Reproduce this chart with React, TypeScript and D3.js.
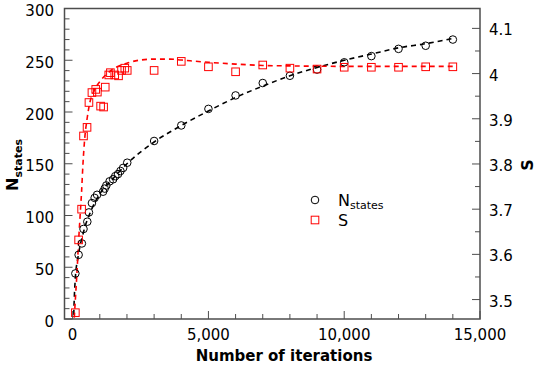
import React from 'react';
import * as d3 from 'd3';

// N_states (black circles)
const nIter = [100, 220, 340, 400, 540, 600, 710, 810, 900, 1120, 1180, 1240, 1360, 1490, 1570, 1670, 1760, 1860, 2010, 3000, 4000, 5000, 6000, 7000, 8000, 9000, 10000, 11000, 12000, 13000, 14000];
const nStates = [44, 62, 73, 87, 94, 103, 112, 117, 120, 123, 126, 129, 133, 135, 138, 140, 143, 146, 151, 172, 187, 203, 216, 228, 235, 241, 248, 254, 261, 264, 270];

// S (red squares)
const sIter = [100, 220, 330, 400, 530, 600, 710, 850, 910, 1030, 1140, 1200, 1330, 1390, 1550, 1690, 1800, 1920, 2010, 3000, 4000, 5000, 6000, 7000, 8000, 9000, 10000, 11000, 12000, 13000, 14000];
const sValues = [3.471, 3.632, 3.7, 3.862, 3.881, 3.936, 3.958, 3.965, 3.959, 3.928, 3.926, 3.97, 3.997, 4.002, 3.997, 3.995, 4.007, 4.012, 4.007, 4.007, 4.027, 4.015, 4.004, 4.019, 4.012, 4.01, 4.014, 4.014, 4.014, 4.015, 4.015];

// fitted curves (dashed)
const nFitIter = [40, 60, 100, 200, 400, 700, 1000, 1500, 2000, 3000, 4000, 5000, 6000, 7000, 8000, 9000, 10000, 11000, 12000, 13000, 14000];
const nFitValues = [4, 20, 40, 60, 84, 106, 121, 136, 150, 171, 187, 201, 214, 225, 235, 243, 250, 256, 262, 266, 271];
const sFitIter = [60, 100, 150, 220, 280, 330, 380, 450, 520, 630, 800, 1050, 1350, 2000, 2500, 3000, 3600, 4000, 5000, 6000, 7000, 8000, 10000, 12000, 14000];
const sFitValues = [3.46, 3.5, 3.55, 3.63, 3.69, 3.74, 3.8, 3.86, 3.895, 3.935, 3.963, 3.986, 4.004, 4.023, 4.03, 4.032, 4.032, 4.03, 4.025, 4.021, 4.018, 4.017, 4.016, 4.016, 4.016];

const xTicks = [0, 5000, 10000, 15000];
const leftTicks = [0, 50, 100, 150, 200, 250, 300];
const rightTicks = [3.5, 3.6, 3.7, 3.8, 3.9, 4.0, 4.1];

const W = 540;
const H = 366;
const left = 64.5;
const right = 480;
const top = 8.5;
const bottom = 319;
const font = 'DejaVu Sans, sans-serif';
const axisColor = '#4d4d4d';

export default function App() {
  const x = d3.scaleLinear().domain([-300, 15000]).range([left, right]);
  const yN = d3.scaleLinear().domain([0, 300]).range([bottom, top]);
  const yS = d3.scaleLinear().domain([3.457, 4.144]).range([bottom, top]);

  const nLine = d3.line<number>()
    .x((d, i) => x(nFitIter[i]))
    .y(d => yN(d))
    .curve(d3.curveMonotoneX);
  const sLine = d3.line<number>()
    .x((d, i) => x(sFitIter[i]))
    .y(d => yS(d))
    .curve(d3.curveMonotoneX);

  const xMinor = d3.range(0, 15001, 1000).filter(v => v % 5000 !== 0);
  const leftMinor = d3.range(0, 301, 10).filter(v => v % 50 !== 0);
  const rightMinor = d3.range(3.45, 4.15, 0.1).filter(v => yS(v) <= bottom && yS(v) >= top);
  const fmt = d3.format(',');

  return (
    <svg width={W} height={H} style={{ position: 'absolute', left: 0, top: 0 }} fontFamily={font}>
      <defs>
        <clipPath id="plot">
          <rect x={left} y={top} width={right - left} height={bottom - top} />
        </clipPath>
      </defs>
      <rect width={W} height={H} fill="#fff" />

      <g clipPath="url(#plot)">
        <path d={nLine(nFitValues) || ''} fill="none" stroke="#000" strokeWidth={1.6} strokeDasharray="5,4" />
        <path d={sLine(sFitValues) || ''} fill="none" stroke="#f00" strokeWidth={1.6} strokeDasharray="5,4" />
        {nStates.map((v, i) => (
          <circle key={'c' + i} cx={x(nIter[i])} cy={yN(v)} r={3.8} fill="none" stroke="#000" strokeWidth={1} />
        ))}
        {sValues.map((v, i) => (
          <rect key={'s' + i} x={x(sIter[i]) - 3.8} y={yS(v) - 3.8} width={7.6} height={7.6} fill="none" stroke="#f00" strokeWidth={1} />
        ))}
      </g>

      {/* ticks */}
      <g stroke={axisColor} strokeWidth={1}>
        {xTicks.map(t => (
          <line key={'xt' + t} x1={x(t)} x2={x(t)} y1={bottom} y2={bottom - 8} />
        ))}
        {xMinor.map(t => (
          <line key={'xm' + t} x1={x(t)} x2={x(t)} y1={bottom} y2={bottom - 5} />
        ))}
        {leftTicks.map(t => (
          <line key={'lt' + t} x1={left} x2={left + 8} y1={yN(t)} y2={yN(t)} />
        ))}
        {leftMinor.map(t => (
          <line key={'lm' + t} x1={left} x2={left + 5} y1={yN(t)} y2={yN(t)} />
        ))}
        {rightTicks.map(t => (
          <line key={'rt' + t} x1={right} x2={right - 8} y1={yS(t)} y2={yS(t)} />
        ))}
        {rightMinor.map(t => (
          <line key={'rm' + t} x1={right} x2={right - 5} y1={yS(t)} y2={yS(t)} />
        ))}
      </g>
      <rect x={left} y={top} width={right - left} height={bottom - top} fill="none" stroke={axisColor} strokeWidth={1.5} />

      {/* tick labels */}
      <g fontSize={15} fill="#000">
        {xTicks.map(t => (
          <text key={'xl' + t} x={x(t)} y={340} textAnchor="middle">{fmt(t)}</text>
        ))}
        {leftTicks.map(t => (
          <text key={'ll' + t} x={54} y={yN(t) + 7.5} textAnchor="end">{t}</text>
        ))}
        {rightTicks.map(t => (
          <text key={'rl' + t} x={489} y={yS(t) + 7} textAnchor="start">{d3.format('')(t)}</text>
        ))}
      </g>

      {/* axis titles */}
      <text x={284} y={361} textAnchor="middle" fontSize={15} fontWeight="bold">Number of iterations</text>
      <text transform="translate(18,165) rotate(-90)" textAnchor="middle" fontWeight="bold" fontSize={16}>
        N<tspan fontSize={11} dy={4}>states</tspan>
      </text>
      <text transform="translate(533,165) rotate(-90)" textAnchor="middle" fontWeight="bold" fontSize={16}>S</text>

      {/* legend */}
      <circle cx={315} cy={200} r={3.8} fill="none" stroke="#000" strokeWidth={1} />
      <text x={338} y={206} fontSize={16}>N<tspan fontSize={11} dy={3}>states</tspan></text>
      <rect x={311.2} y={216.2} width={7.6} height={7.6} fill="none" stroke="#f00" strokeWidth={1} />
      <text x={338} y={226} fontSize={16}>S</text>
    </svg>
  );
}
